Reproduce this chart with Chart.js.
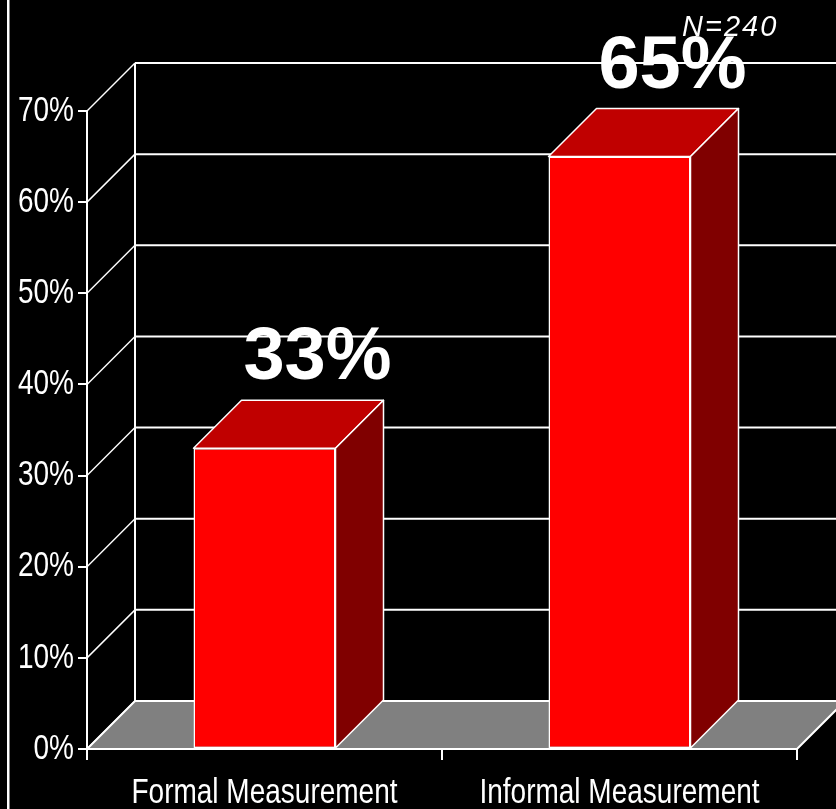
<!DOCTYPE html>
<html>
<head>
<meta charset="utf-8">
<script src="https://cdn.jsdelivr.net/npm/chart.js@4.4.0/dist/chart.umd.min.js"></script>
<style>
    html, body { margin: 0; padding: 0; background: #000; }
    #wrap { position: relative; width: 836px; height: 809px; }
</style>
</head>
<body>
<div id="wrap"><canvas id="measureChart"></canvas></div>
<script>
const categories = ['Formal Measurement', 'Informal Measurement'];
const shares = [33, 65];
const yTickValues = [0, 10, 20, 30, 40, 50, 60, 70];
const sampleNote = 'N=240';

// depth of the fake 3D box (back wall offset)
const DEPTH_X = 48;
const DEPTH_Y = -48;
const sans = "'Liberation Sans', Arial, sans-serif";
// no narrow face installed, so axis text is squeezed by hand
const NARROW = 0.8;

function narrowText(ctx, text, x, y, align, baseline) {
    ctx.save();
    ctx.translate(x, y);
    ctx.scale(NARROW, 1);
    ctx.textAlign = align;
    ctx.textBaseline = baseline;
    ctx.fillText(text, 0, 0);
    ctx.restore();
}

const box3d = {
    id: 'box3d',
    beforeDraw(chart) {
        const ctx = chart.ctx;
        ctx.save();
        ctx.fillStyle = '#000';
        ctx.fillRect(0, 0, chart.width, chart.height);
        ctx.fillStyle = '#fff';
        ctx.fillRect(7, 0, 2.5, chart.height);
        ctx.restore();
    },
    beforeDatasetsDraw(chart) {
        const { ctx, chartArea: a, scales: { y } } = chart;
        const bx = a.left + DEPTH_X;
        const y0 = y.getPixelForValue(0);
        ctx.save();
        ctx.strokeStyle = '#fff';

        // back wall gridlines
        ctx.lineWidth = 2;
        yTickValues.forEach(v => {
            const py = y.getPixelForValue(v) + DEPTH_Y;
            ctx.beginPath();
            ctx.moveTo(bx, py);
            ctx.lineTo(a.right + DEPTH_X, py);
            ctx.stroke();
        });
        ctx.beginPath();
        ctx.moveTo(bx, y.getPixelForValue(yTickValues[yTickValues.length - 1]) + DEPTH_Y);
        ctx.lineTo(bx, y0 + DEPTH_Y);
        ctx.stroke();

        // side wall diagonals
        ctx.lineWidth = 1.5;
        yTickValues.forEach(v => {
            const py = y.getPixelForValue(v);
            ctx.beginPath();
            ctx.moveTo(a.left, py);
            ctx.lineTo(bx, py + DEPTH_Y);
            ctx.stroke();
        });

        // floor
        ctx.beginPath();
        ctx.moveTo(a.left, y0);
        ctx.lineTo(a.right, y0);
        ctx.lineTo(a.right + DEPTH_X, y0 + DEPTH_Y);
        ctx.lineTo(bx, y0 + DEPTH_Y);
        ctx.closePath();
        ctx.fillStyle = '#808080';
        ctx.fill();
        ctx.lineWidth = 2;
        ctx.stroke();
        ctx.restore();
    },
    afterDatasetsDraw(chart) {
        const ctx = chart.ctx;
        const meta = chart.getDatasetMeta(0);
        ctx.save();
        ctx.strokeStyle = '#fff';
        ctx.lineWidth = 1.5;
        ctx.lineJoin = 'round';
        meta.data.forEach((bar, i) => {
            const l = bar.x - bar.width / 2;
            const r = bar.x + bar.width / 2;
            const t = bar.y;
            const b = bar.base;

            // top face
            ctx.beginPath();
            ctx.moveTo(l, t);
            ctx.lineTo(l + DEPTH_X, t + DEPTH_Y);
            ctx.lineTo(r + DEPTH_X, t + DEPTH_Y);
            ctx.lineTo(r, t);
            ctx.closePath();
            ctx.fillStyle = '#c00000';
            ctx.fill();
            ctx.stroke();

            // right face
            ctx.beginPath();
            ctx.moveTo(r, t);
            ctx.lineTo(r + DEPTH_X, t + DEPTH_Y);
            ctx.lineTo(r + DEPTH_X, b + DEPTH_Y);
            ctx.lineTo(r, b);
            ctx.closePath();
            ctx.fillStyle = '#800000';
            ctx.fill();
            ctx.stroke();

            // value label
            ctx.fillStyle = '#fff';
            ctx.font = 'bold 74px ' + sans;
            ctx.textAlign = 'center';
            ctx.textBaseline = 'alphabetic';
            ctx.fillText(shares[i] + '%', bar.x + DEPTH_X + 5, t + DEPTH_Y - 21);
        });

        ctx.font = 'italic 29px ' + sans;
        ctx.textAlign = 'left';
        ctx.letterSpacing = '2px';
        ctx.fillText(sampleNote, 682, 36);
        ctx.restore();
    },
    afterDraw(chart) {
        const { ctx, scales: { x, y } } = chart;
        ctx.save();
        ctx.fillStyle = '#fff';
        ctx.font = '35px ' + sans;
        y.ticks.forEach(t => {
            narrowText(ctx, t.value + '%', y.right - 13, y.getPixelForValue(t.value), 'right', 'middle');
        });
        categories.forEach((c, i) => {
            narrowText(ctx, c, x.getPixelForValue(i), x.top + 54, 'center', 'alphabetic');
        });
        ctx.restore();
    }
};

new Chart(document.getElementById('measureChart'), {
    type: 'bar',
    data: {
        labels: categories,
        datasets: [{
            data: shares,
            backgroundColor: '#ff0000',
            borderColor: '#ffffff',
            borderWidth: 1.5,
            borderSkipped: false,
            barPercentage: 0.4,
            categoryPercentage: 1
        }]
    },
    options: {
        responsive: true,
        maintainAspectRatio: false,
        animation: false,
        layout: {
            padding: { top: 111, right: 39, left: 0, bottom: 0 }
        },
        plugins: {
            legend: { display: false },
            tooltip: { enabled: false }
        },
        scales: {
            x: {
                grid: {
                    offset: true,
                    drawOnChartArea: false,
                    color: '#fff',
                    lineWidth: 2,
                    tickLength: 11
                },
                border: { color: '#fff', width: 2 },
                ticks: { display: false },
                afterFit(scale) { scale.height = 60; }
            },
            y: {
                min: 0,
                max: 70,
                afterBuildTicks(scale) {
                    scale.ticks = yTickValues.map(v => ({ value: v }));
                },
                ticks: { display: false },
                grid: {
                    drawOnChartArea: false,
                    color: '#fff',
                    lineWidth: 2,
                    tickLength: 9
                },
                border: { color: '#fff', width: 2 },
                afterFit(scale) { scale.width = 87; }
            }
        }
    },
    plugins: [box3d]
});
</script>
</body>
</html>
